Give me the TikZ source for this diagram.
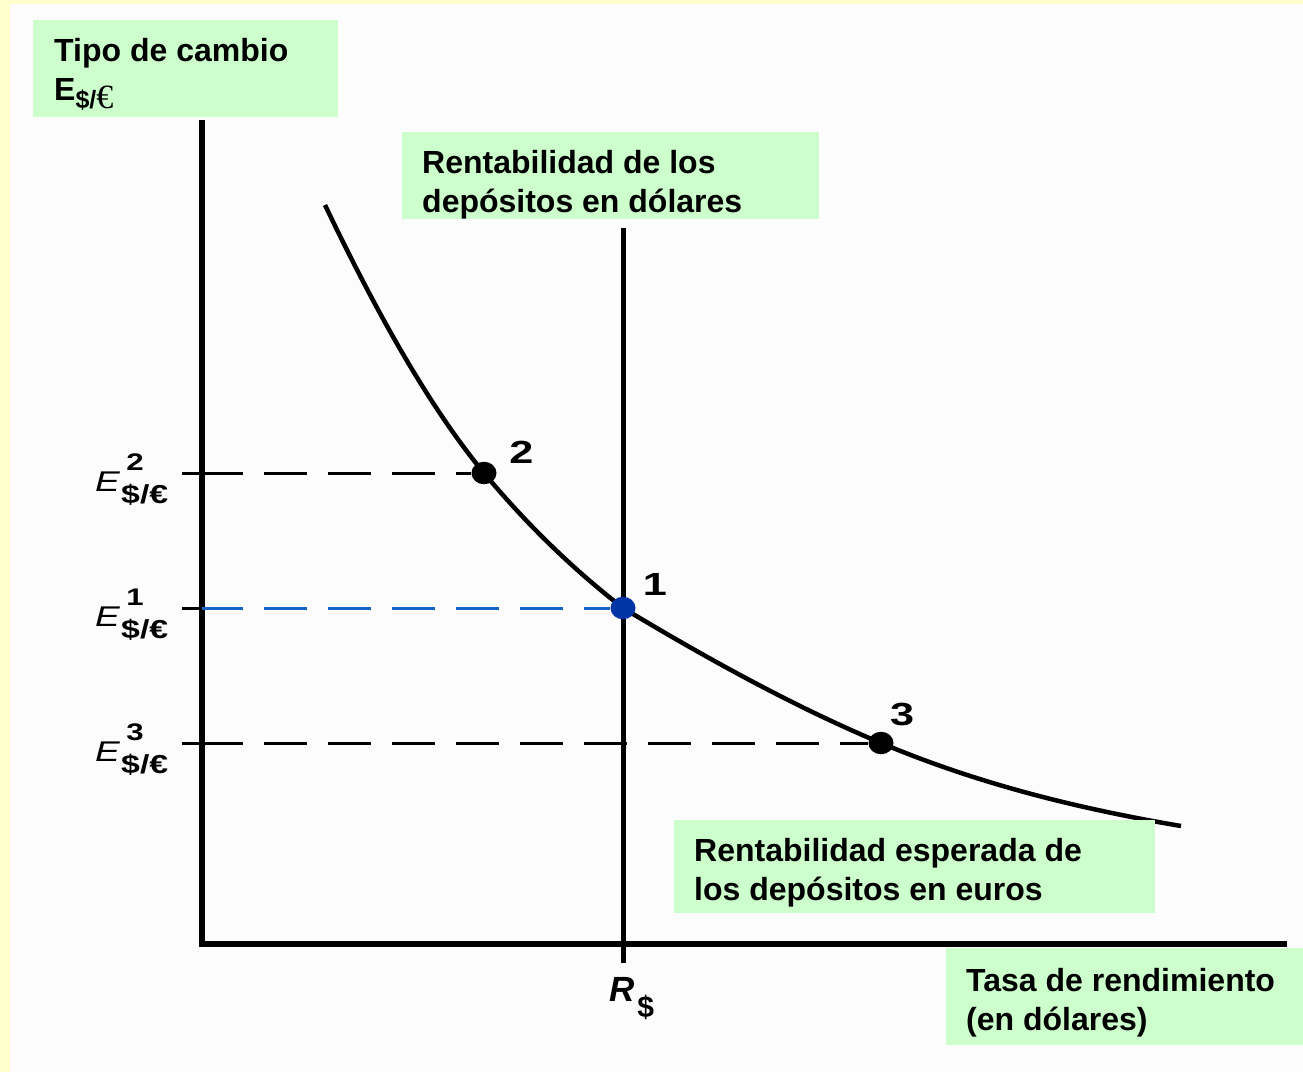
\documentclass[tikz,border=0pt]{standalone}
\usepackage{fontspec}
\usepackage{graphicx}
\usetikzlibrary{shapes.geometric}
\setmainfont{Liberation Sans}
\newfontfamily\serifeuro{Liberation Serif}
\definecolor{bgyellow}{HTML}{FFFFCC}
\definecolor{bgwhite}{HTML}{FCFCFC}
\definecolor{boxgreen}{HTML}{CCFFCC}
\definecolor{dotblue}{HTML}{0035A5}
\definecolor{dashblue}{HTML}{1565C8}
\newcommand{\ELab}[1]{\scalebox{1.3}[1]{{\fontsize{28.5}{30}\selectfont\itshape E}\kern1pt\rlap{\kern4pt\raisebox{21pt}{\fontsize{24}{26}\selectfont\bfseries #1}}\raisebox{-12pt}{\fontsize{26}{28}\selectfont\bfseries\$/€}}}
\newcommand{\PtLab}[1]{\scalebox{1.35}[1]{\fontsize{32}{34}\selectfont\bfseries #1}}
\begin{document}
\begin{tikzpicture}[x=1pt,y=-1pt,
  greenbox/.style={fill=boxgreen, draw=none, inner sep=0pt, outer sep=0pt, anchor=north west},
  boxtext/.style={anchor=base west, align=left, inner sep=0pt, font=\fontsize{32}{39}\selectfont\bfseries},
  axisline/.style={line width=6pt, line join=miter, line cap=butt},
  rline/.style={line width=5pt},
  curveline/.style={line width=4.5pt, line cap=butt},
  tickline/.style={line width=3pt},
  dashline/.style={line width=3pt, dash pattern=on 43pt off 21pt, dash phase=2pt},
  ptdot/.style={ellipse, fill=black, inner sep=0pt, minimum width=25pt, minimum height=22.5pt},
  lbl/.style={inner sep=0pt, anchor=base west},
  numlbl/.style={inner sep=0pt, anchor=base}
]
\useasboundingbox (0,0) rectangle (1303,1072);
\fill[bgyellow] (0,0) rectangle (1303,1072);
\fill[bgwhite] (10,4) rectangle (1303,1072);

% axes
\coordinate (ytop) at (202,120);
\coordinate (orig) at (202,944);
\coordinate (xend) at (1287,944);
\draw[axisline] (ytop) -- (orig) -- (xend);

% vertical line: return on dollar deposits
\coordinate (rtop) at (623,228);
\coordinate (rbot) at (623,963);
\draw[rline] (rtop) -- (rbot);

% expected euro return curve
\coordinate (cs) at (325,205);
\coordinate (ce) at (1181,826);
\draw[curveline] (cs)
  .. controls (378,316) and (431,409) .. (484,473)
  .. controls (530.3,528.6) and (576.7,572) .. (623,608)
  .. controls (709,659.6) and (795,707) .. (881,743)
  .. controls (981,785) and (1081,809) .. (ce);

% points
\node[ptdot] (p2) at (484,473) {};
\node[ptdot, fill=dotblue] (p1) at (623,608) {};
\node[ptdot] (p3) at (881,743) {};

% ticks and dashed guides
\coordinate (t2) at (182,473); \coordinate (a2) at (202,473);
\coordinate (t1) at (182,608); \coordinate (a1) at (202,608);
\coordinate (t3) at (182,743); \coordinate (a3) at (202,743);
\draw[tickline] (t2) -- (a2);
\draw[tickline] (t1) -- (a1);
\draw[tickline] (t3) -- (a3);
\draw[dashline] (a2) -- (p2);
\draw[dashline, dashblue] (a1) -- (p1);
\draw[dashline] (a3) -- (p3);

% point labels
\node[numlbl] (n2) at (521.5,463) {\PtLab{2}};
\node[numlbl] (n1) at (655,595) {\PtLab{1}};
\node[numlbl] (n3) at (902,725) {\PtLab{3}};

% axis labels
\node[lbl] (e2l) at (95,491) {\ELab{2}};
\node[lbl] (e1l) at (95,626) {\ELab{1}};
\node[lbl] (e3l) at (95,761) {\ELab{3}};
\node[lbl] (rl) at (609,1001) {{\fontsize{35}{37}\selectfont\bfseries\itshape R}\kern3pt\raisebox{-16pt}{\fontsize{30}{32}\selectfont\bfseries\$}};

% green caption boxes
\node[greenbox, minimum width=305pt, minimum height=97pt] (box1) at (33,20) {};
\node[greenbox, minimum width=417pt, minimum height=87pt] (box2) at (402,132) {};
\node[greenbox, minimum width=481pt, minimum height=93pt] (box3) at (674,820) {};
\node[greenbox, minimum width=357pt, minimum height=97pt] (box4) at (946,948) {};

\node[boxtext] (txt1) at (54,100) {Tipo de cambio\\E\raisebox{-8pt}{\fontsize{25}{27}\selectfont\$/{\serifeuro\mdseries\fontsize{34}{36}\selectfont €}}};
\node[boxtext] (txt2) at (422,212) {Rentabilidad de los\\depósitos en dólares};
\node[boxtext] (txt3) at (694,900) {Rentabilidad esperada de\\los depósitos en euros};
\node[boxtext] (txt4) at (966,1030) {Tasa de rendimiento\\(en dólares)};
\end{tikzpicture}
\end{document}
